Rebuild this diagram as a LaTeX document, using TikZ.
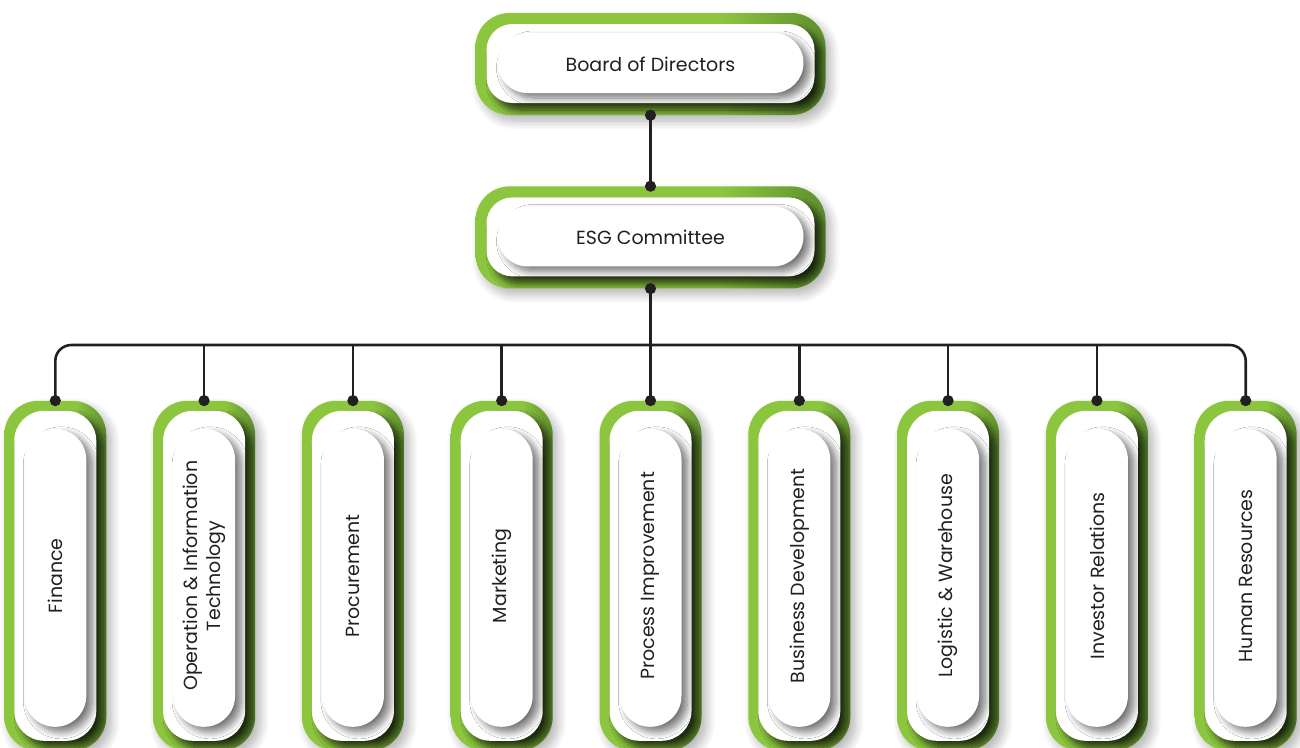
\documentclass[tikz,border=0pt]{standalone}
\usepackage{fontspec}
\setmainfont{Poppins}
\usetikzlibrary{positioning, arrows.meta, shadows.blur}

\definecolor{leaf}{HTML}{8CC63F}
\definecolor{moss}{HTML}{5E8F2E}
\definecolor{ink}{HTML}{231F20}

% green band, darker towards the right
\pgfdeclarehorizontalshading{leafshade}{100bp}{color(0bp)=(leaf); color(25bp)=(leaf); color(60bp)=(leaf); color(75bp)=(moss); color(100bp)=(moss)}

\begin{document}
\begin{tikzpicture}[x=1pt, y=-1pt, node distance=46.4pt,
        font=\fontsize{19}{23}\selectfont, text=ink,
        unit/.style={rectangle, inner sep=0pt, rounded corners=34pt, shading=leafshade,
            blur shadow={shadow xshift=5pt, shadow yshift=-6pt, shadow blur radius=9pt, shadow blur steps=10, shadow opacity=30}},
        frameshadow/.style={blur shadow={shadow xshift=7pt, shadow yshift=-7pt, shadow blur radius=7pt, shadow blur steps=10, shadow opacity=75}},
        pillshadow/.style={blur shadow={shadow xshift=6pt, shadow yshift=-5pt, shadow blur radius=7pt, shadow blur steps=10, shadow opacity=55}},
        hbox/.style={unit, minimum width=350pt, minimum height=102pt, path picture={
            \fill[white, rounded corners=26pt, frameshadow]
                ([shift={(11pt,-11pt)}]path picture bounding box.north west) rectangle ([shift={(-11pt,12pt)}]path picture bounding box.south east);
            \fill[white, rounded corners=30pt, pillshadow]
                ([shift={(22pt,-20pt)}]path picture bounding box.north west) rectangle ([shift={(-22pt,22pt)}]path picture bounding box.south east);
        }},
        vbox/.style={unit, minimum width=102pt, minimum height=350pt, path picture={
            \fill[white, rounded corners=30pt, frameshadow]
                ([shift={(10pt,-10pt)}]path picture bounding box.north west) rectangle ([shift={(-10pt,10pt)}]path picture bounding box.south east);
            \fill[white, rounded corners=31pt, pillshadow]
                ([shift={(20pt,-28pt)}]path picture bounding box.north west) rectangle ([shift={(-20pt,24pt)}]path picture bounding box.south east);
        }},
        vlabel/.style={rotate=90, align=center},
        line/.style={draw=ink, line width=2.6pt},
        dots/.style={{Circle[length=11pt]}-{Circle[length=11pt]}, shorten <=-5.5pt, shorten >=-5.5pt},
        dot/.style={-{Circle[length=11pt]}, shorten >=-5.5pt}
    ]
        \useasboundingbox (0,0) rectangle (1300,747);
        \clip (0,0) rectangle (1300,747);
        % Top of the chart
        \node[hbox] (board) at (650.5,64) {Board of Directors};
        \node[hbox, below=71pt of board] (esg) {ESG Committee};
        % Working groups
        \node[vbox, below=112pt of esg] (process) {};
        \node[vbox, left=of process] (mkt) {};
        \node[vbox, left=of mkt] (procure) {};
        \node[vbox, left=of procure] (opit) {};
        \node[vbox, left=of opit] (fin) {};
        \node[vbox, right=of process] (busdev) {};
        \node[vbox, right=of busdev] (logistic) {};
        \node[vbox, right=of logistic] (investor) {};
        \node[vbox, right=of investor] (hr) {};
        % Group names
        \node[vlabel] (fin-t) at (fin) {Finance};
        \node[vlabel] (opit-t) at (opit) {Operation \& Information\\Technology};
        \node[vlabel] (procure-t) at (procure) {Procurement};
        \node[vlabel] (mkt-t) at (mkt) {Marketing};
        \node[vlabel] (process-t) at (process) {Process Improvement};
        \node[vlabel] (busdev-t) at (busdev) {Business Development};
        \node[vlabel] (logistic-t) at (logistic) {Logistic \& Warehouse};
        \node[vlabel] (investor-t) at (investor) {Investor Relations};
        \node[vlabel] (hr-t) at (hr) {Human Resources};
        % Connections
        \coordinate (bus) at (651,345);
        \path[line, dots] (board) -- (esg);
        \path[line, dots] (esg) -- (process);
        \path[line, dots, rounded corners=16pt] (fin) |- (bus) -| (hr);
        \path[line, dot] (opit |- bus) -- (opit);
        \path[line, dot] (procure |- bus) -- (procure);
        \path[line, dot] (mkt |- bus) -- (mkt);
        \path[line, dot] (busdev |- bus) -- (busdev);
        \path[line, dot] (logistic |- bus) -- (logistic);
        \path[line, dot] (investor |- bus) -- (investor);
    \end{tikzpicture}
\end{document}
